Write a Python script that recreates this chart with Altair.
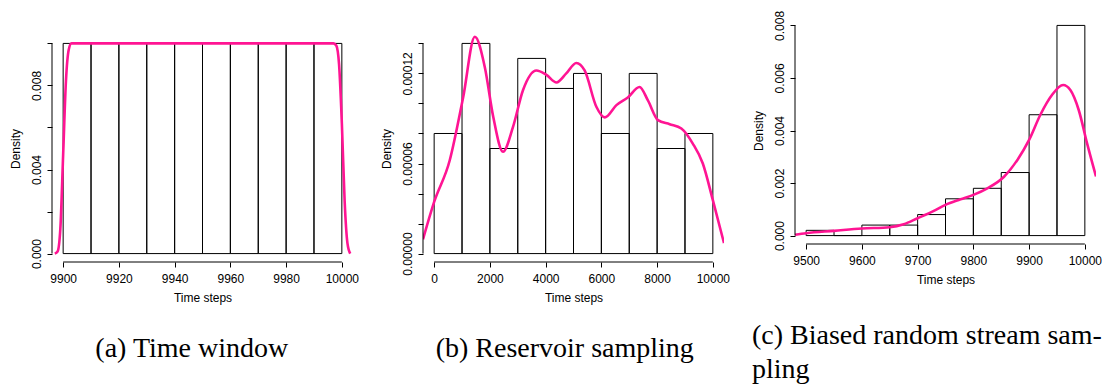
import altair as alt
import pandas as pd

# ---------------- data ----------------
# (a) Time window
a_edges = [9900, 9910, 9920, 9930, 9940, 9950, 9960, 9970, 9980, 9990, 10000]
a_dens = [0.01, 0.01, 0.01, 0.01, 0.01, 0.01, 0.01, 0.01, 0.01, 0.01]
a_curve_x = [9897, 9898, 9899, 9900, 9901, 9902, 9903, 9997, 9998, 9999, 10000, 10001, 10002, 10003]
a_curve_y = [0.0, 0.0001, 0.0012, 0.0047, 0.0082, 0.0097, 0.0100, 0.0100, 0.0099, 0.0090, 0.0062, 0.0025, 0.0005, 0.0]
a_xticks = [9900, 9920, 9940, 9960, 9980, 10000]
a_yticks = [0.0, 0.002, 0.004, 0.006, 0.008, 0.010]
a_ylabels = [0.0, 0.004, 0.008]

# (b) Reservoir sampling
b_edges = [0, 1000, 2000, 3000, 4000, 5000, 6000, 7000, 8000, 9000, 10000]
b_dens = [0.00008, 0.00014, 0.00007, 0.00013, 0.00011, 0.00012, 0.00008, 0.00012, 0.00007, 0.00008]
b_curve_x = [-400, 0, 560, 1040, 1460, 1820, 2120, 2470, 2830, 3190, 3670, 4030, 4390, 4740,
             5100, 5400, 5820, 6120, 6540, 6950, 7370, 7670, 8030, 8450, 8870, 9280, 9640, 10000, 10400]
b_curve_y = [0.0000095, 0.0000344, 0.0000622, 0.000104, 0.0001444, 0.000124, 0.0000911, 0.0000678,
             0.0000844, 0.000109, 0.000122, 0.000119, 0.000114, 0.00012, 0.000127, 0.000122, 0.0000978,
             0.0000907, 0.0000989, 0.000104, 0.000111, 0.000102, 0.0000889, 0.0000862, 0.0000833,
             0.0000733, 0.00006, 0.0000356, 0.000007]
b_xticks = [0, 2000, 4000, 6000, 8000, 10000]
b_yticks = [0.0, 0.00002, 0.00004, 0.00006, 0.00008, 0.0001, 0.00012, 0.00014]
b_ylabels = [0.0, 0.00006, 0.00012]

# (c) Biased random stream sampling
c_edges = [9500, 9550, 9600, 9650, 9700, 9750, 9800, 9850, 9900, 9950, 10000]
c_dens = [0.0002, 0.0, 0.0004, 0.0004, 0.0008, 0.0014, 0.0018, 0.0024, 0.0046, 0.008]
c_curve_x = [9480, 9500, 9550, 9600, 9650, 9675, 9700, 9730, 9750, 9777, 9800, 9825, 9855, 9879,
             9900, 9920, 9941, 9961, 9974, 9989, 10004, 10020]
c_curve_y = [0.00003, 0.00009, 0.00018, 0.00027, 0.00032, 0.00043, 0.00066, 0.00095, 0.00117,
             0.00138, 0.00155, 0.0018, 0.00224, 0.00288, 0.00364, 0.00459, 0.00535, 0.00573,
             0.00554, 0.00478, 0.00351, 0.00225]
c_xticks = [9500, 9600, 9700, 9800, 9900, 10000]
c_yticks = [0.0, 0.002, 0.004, 0.006, 0.008]
c_ylabels = [0.0, 0.002, 0.004, 0.006, 0.008]

captions = ["(a) Time window", "(b) Reservoir sampling", ["(c) Biased random stream sam-", "pling"]]

W, H = 301, 227
DROP = 18          # panels (a) and (b) sit lower than (c)
PINK = "#ff1493"


def panel(edges, dens, cx, cy, xticks, yticks, ylabels, yfmt, caption, drop,
          anchor, dx, offset):
    x_lo, x_hi = edges[0], edges[-1]
    ext = (x_hi - x_lo) * 0.04
    xdom = [x_lo - ext, x_hi + ext]
    ymax = max(dens)
    ydom = [-ymax * 0.04, ymax * 1.04]
    ph = H + drop
    xs = alt.Scale(domain=xdom, nice=False, zero=False)
    ys = alt.Scale(domain=ydom, nice=False, zero=False, range=[ph, drop])

    bars = pd.DataFrame({"x0": edges[:-1], "x1": edges[1:], "d": dens, "base": [0.0] * len(dens)})
    curve = pd.DataFrame({"x0": cx, "d": cy})
    xaxis_df = pd.DataFrame({"x0": [xticks[0]], "x1": [xticks[-1]]})
    yaxis_df = pd.DataFrame({"d": [yticks[0]], "d2": [yticks[-1]]})

    eps = ymax * 1e-6
    cond = " || ".join("abs(datum.value - %r) < %r" % (v, eps) for v in ylabels)
    ylab_expr = "(%s) ? format(datum.value, '%s') : ''" % (cond, yfmt)

    xenc = alt.X("x0:Q", scale=xs, title="Time steps",
                 axis=alt.Axis(values=xticks, tickCount=len(xticks) + 4, format="d",
                               labelOverlap=False))
    yenc = alt.Y("d:Q", scale=ys, title="Density",
                 axis=alt.Axis(values=yticks, tickCount=len(yticks) + 4, labelExpr=ylab_expr,
                               labelOverlap=False, labelBound=False))

    hist = alt.Chart(bars).mark_rect(fill="white", fillOpacity=0, stroke="black", strokeWidth=1).encode(
        x=xenc, x2="x1:Q", y=yenc, y2="base:Q")
    line = alt.Chart(curve).mark_line(color=PINK, strokeWidth=2.6, clip=True,
                                      interpolate="monotone").encode(
        x=alt.X("x0:Q", scale=xs, title="Time steps"),
        y=alt.Y("d:Q", scale=ys, title="Density"))
    xaxis_line = alt.Chart(xaxis_df).mark_rule(color="black", strokeWidth=1).encode(
        x=alt.X("x0:Q", scale=xs, title="Time steps"), x2="x1:Q", y=alt.value(ph))
    yaxis_line = alt.Chart(yaxis_df).mark_rule(color="black", strokeWidth=1).encode(
        y=alt.Y("d:Q", scale=ys, title="Density"), y2="d2:Q", x=alt.value(0))

    title = alt.TitleParams(text=caption, orient="bottom", anchor=anchor, frame="bounds",
                            font="Liberation Serif", fontSize=28, fontWeight="normal",
                            color="black", baseline="alphabetic", lineHeight=34,
                            offset=offset, dx=dx)
    return alt.layer(hist, line, xaxis_line, yaxis_line).properties(
        width=W, height=ph, title=title)


pa = panel(a_edges, a_dens, a_curve_x, a_curve_y, a_xticks, a_yticks, a_ylabels, ".3f",
           captions[0], DROP, "middle", 8, 54)
pb = panel(b_edges, b_dens, b_curve_x, b_curve_y, b_xticks, b_yticks, b_ylabels, ".5f",
           captions[1], DROP, "middle", 10, 54)
pc = panel(c_edges, c_dens, c_curve_x, c_curve_y, c_xticks, c_yticks, c_ylabels, ".3f",
           captions[2], 0, "start", 0, 59)

chart = alt.hconcat(pa, pb, pc, spacing=21).properties(
    padding={"left": 9, "top": 10, "right": 0, "bottom": 0},
    background="white",
).configure_view(strokeWidth=0).configure_axis(
    domain=False, grid=False, tickColor="black", tickSize=5, tickWidth=1,
    labelFont="Liberation Sans", labelFontSize=12, labelColor="black",
    titleFont="Liberation Sans", titleFontSize=12, titleFontWeight="normal", titleColor="black",
    labelOverlap=False, labelFlush=False,
).configure_axisX(labelPadding=6, titlePadding=8).configure_axisY(
    labelPadding=4, titlePadding=8, labelAngle=270, labelAlign="center", labelBaseline="bottom")

chart.save("out.html", embed_options={"renderer": "svg", "actions": False})
